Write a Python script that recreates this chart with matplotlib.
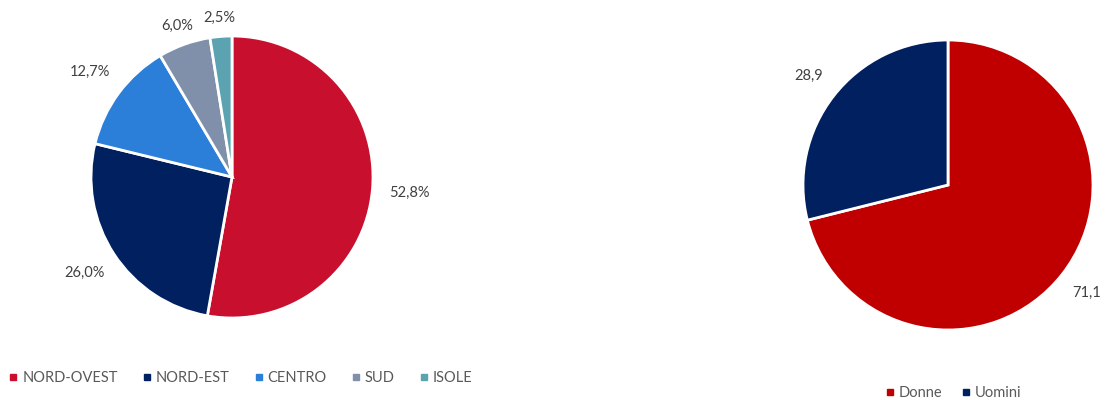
import matplotlib
matplotlib.use("Agg")
import numpy as np
import matplotlib.pyplot as plt
from matplotlib.lines import Line2D

plt.rcParams["font.family"] = ["Lato", "DejaVu Sans"]

# %% data
regions = ["NORD-OVEST", "NORD-EST", "CENTRO", "SUD", "ISOLE"]
region_share = [52.8, 26.0, 12.7, 6.0, 2.5]
region_colors = ["#C8102E", "#002060", "#2B7FD8", "#8090AA", "#5BA3B0"]

genders = ["Donne", "Uomini"]
gender_share = [71.1, 28.9]
gender_colors = ["#C00000", "#002060"]

text_col = "#404040"


def fmt(v, pct=True):
    s = f"{v:.1f}".replace(".", ",")
    return s + "%" if pct else s


def place_labels(ax, wedges, labels, dists):
    for w, lab, d in zip(wedges, labels, dists):
        ang = np.deg2rad((w.theta1 + w.theta2) / 2)
        ax.text(d * np.cos(ang), d * np.sin(ang), lab, ha="center", va="center",
                color=text_col, fontsize=10.5)


W, H = 1110, 400
fig = plt.figure(figsize=(W / 100, H / 100), dpi=100)

# %% left pie: regions
cx, cy, r = 232, 400 - 177, 141
ax1 = fig.add_axes([(cx - r) / W, (cy - r) / H, 2 * r / W, 2 * r / H])
wedges, _ = ax1.pie(region_share, colors=region_colors, startangle=90,
                    counterclock=False,
                    wedgeprops=dict(edgecolor="white", linewidth=2))
place_labels(ax1, wedges, [fmt(v) for v in region_share],
             [1.26, 1.25, 1.25, 1.14, 1.13])
ax1.set_xlim(-1, 1)
ax1.set_ylim(-1, 1)

# %% right pie: gender
cx, cy, r = 948, 400 - 185, 145
ax2 = fig.add_axes([(cx - r) / W, (cy - r) / H, 2 * r / W, 2 * r / H])
wedges, _ = ax2.pie(gender_share, colors=gender_colors, startangle=90,
                    counterclock=False,
                    wedgeprops=dict(edgecolor="white", linewidth=2))
place_labels(ax2, wedges, [fmt(v, pct=False) for v in gender_share],
             [1.21, 1.22])
ax2.set_xlim(-1, 1)
ax2.set_ylim(-1, 1)

# %% legends
def handles(colors):
    return [Line2D([], [], marker="s", linestyle="none", markersize=4.5,
                   markerfacecolor=c, markeredgecolor=c) for c in colors]

fig.legend(handles(region_colors), regions, loc="center left",
           bbox_to_anchor=(-0.005, 1 - 378 / H), ncol=5, frameon=False,
           fontsize=10.5, labelcolor="#595959", handletextpad=0.2,
           columnspacing=1.6, handlelength=0.8)
fig.legend(handles(gender_colors), genders, loc="center",
           bbox_to_anchor=(953 / W, 1 - 393 / H), ncol=2, frameon=False,
           fontsize=10.5, labelcolor="#595959", handletextpad=0.2,
           columnspacing=1.2, handlelength=0.8)

fig.savefig("out.png", dpi=100)
